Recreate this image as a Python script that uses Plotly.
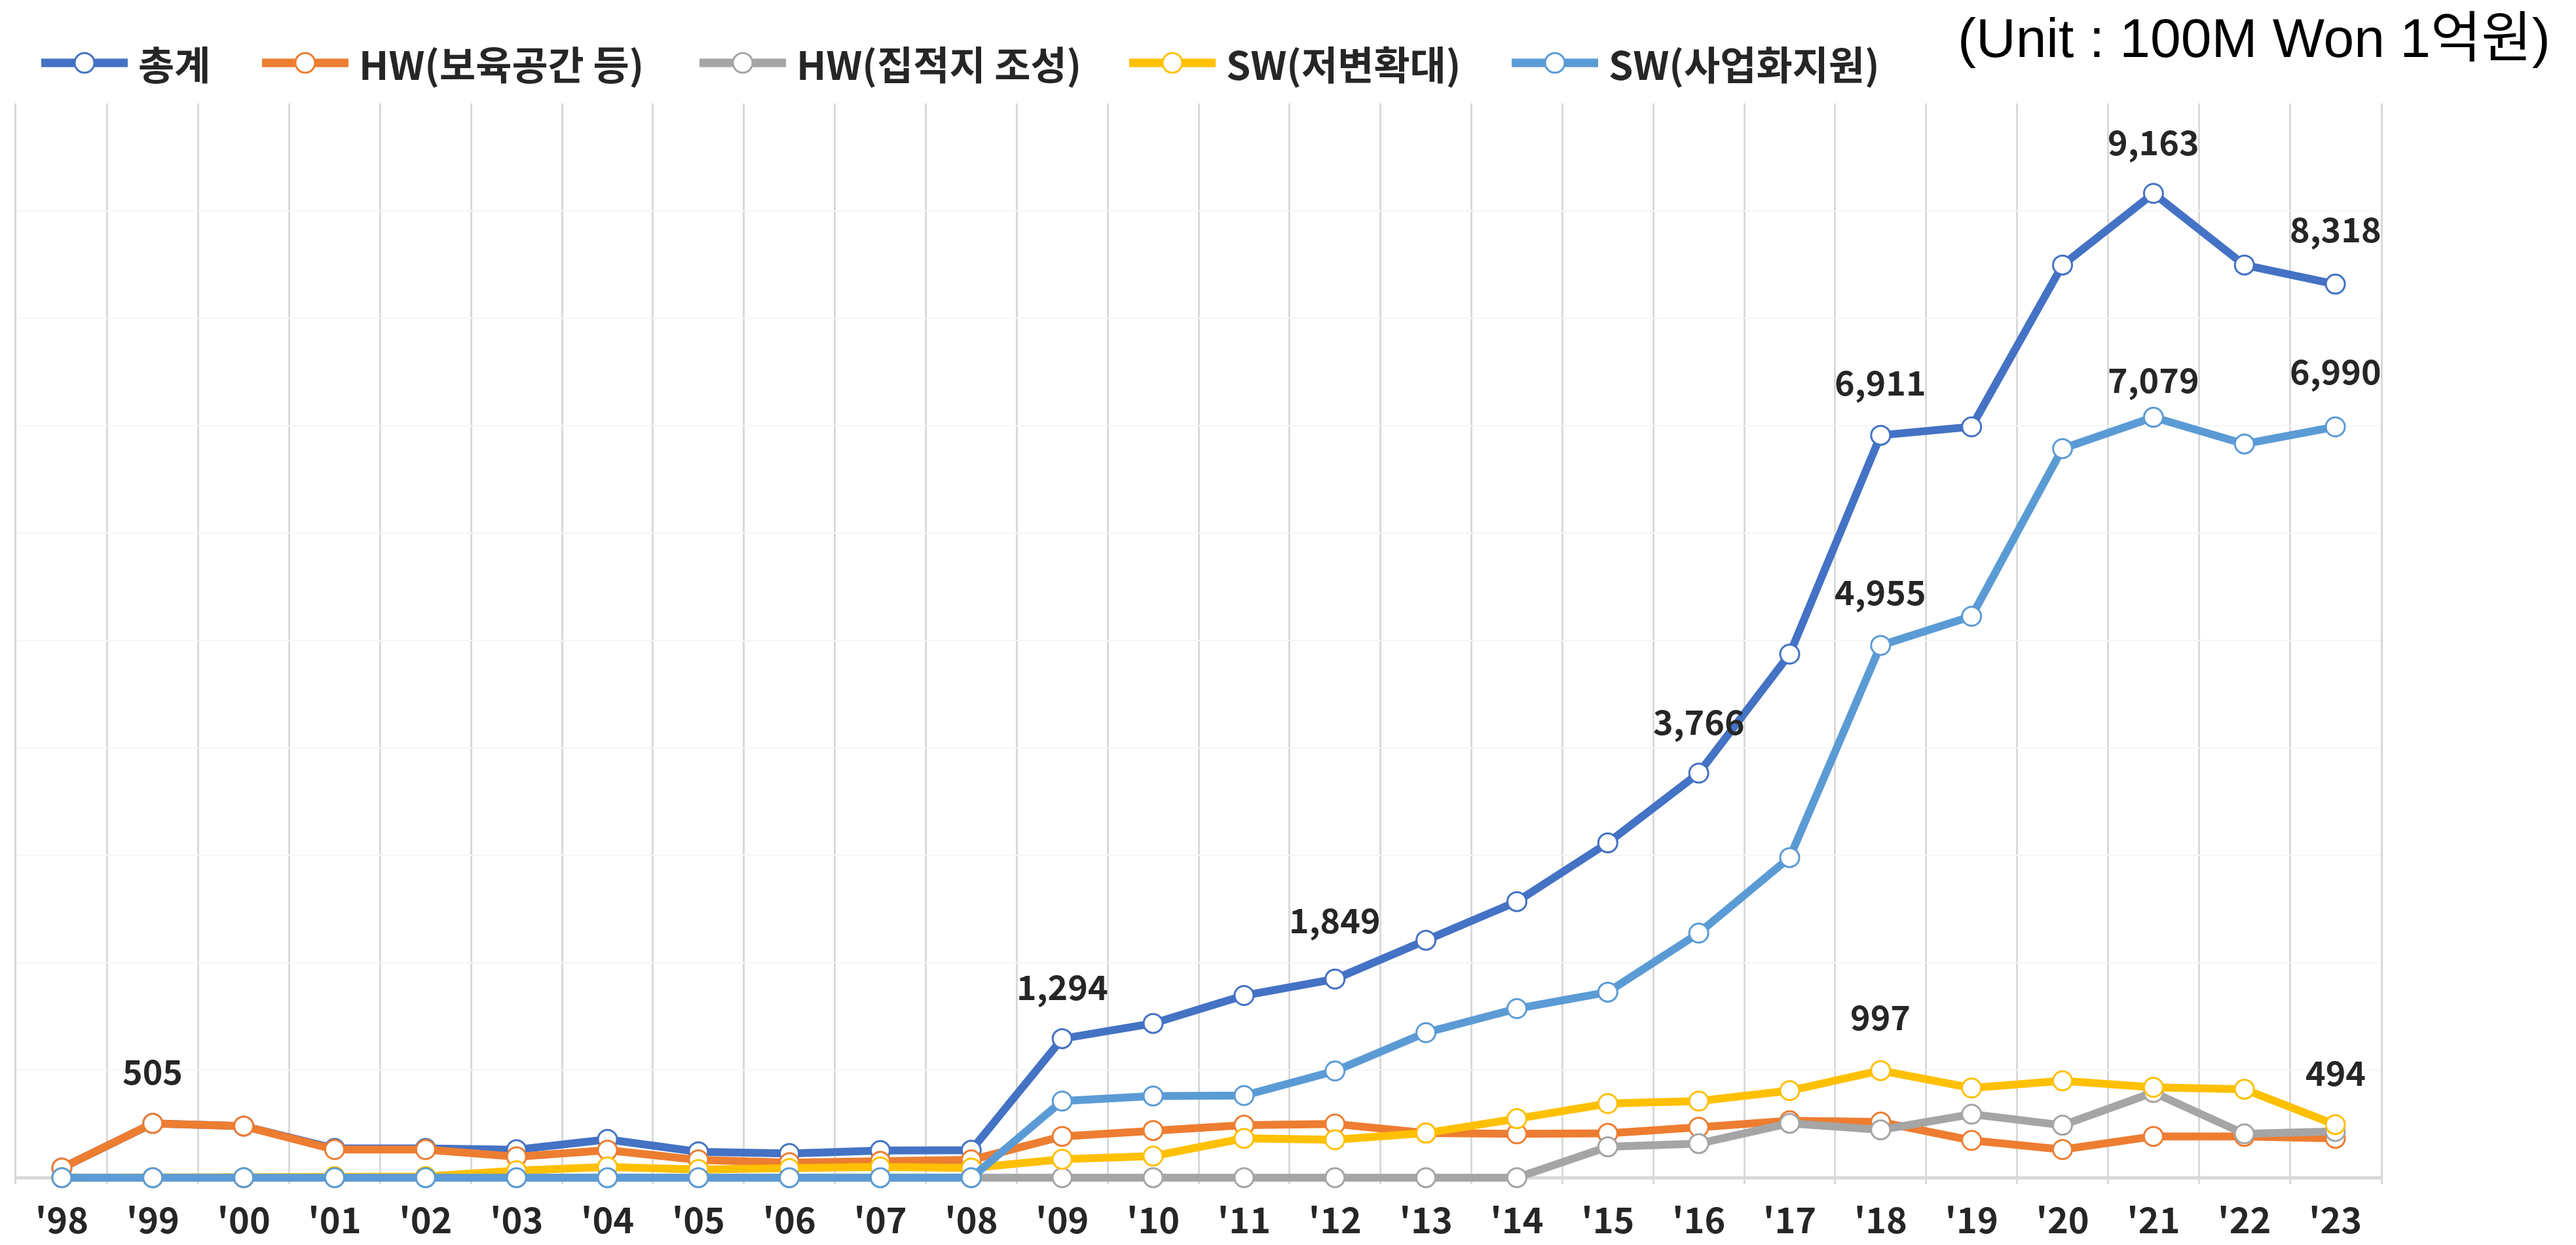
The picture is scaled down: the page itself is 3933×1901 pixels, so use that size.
import plotly.graph_objects as go

# ---------------- data ----------------
years = ["'98", "'99", "'00", "'01", "'02", "'03", "'04", "'05", "'06", "'07", "'08",
         "'09", "'10", "'11", "'12", "'13", "'14", "'15", "'16", "'17", "'18",
         "'19", "'20", "'21", "'22", "'23"]

series_names = ["총계", "HW(보육공간 등)", "HW(집적지 조성)", "SW(저변확대)", "SW(사업화지원)"]

total = [90, 505, 480, 272, 272, 260, 356, 240, 225, 252, 255,
         1294, 1436, 1696, 1849, 2210, 2570, 3117, 3766, 4874, 6911,
         6990, 8496, 9163, 8496, 8318]
hw_space = [90, 505, 480, 262, 262, 195, 256, 165, 140, 152, 165,
            384, 439, 488, 500, 415, 408, 412, 469, 530, 518,
            347, 262, 384, 384, 366]
hw_cluster = [0, 0, 0, 0, 0, 0, 0, 0, 0, 0, 0,
              0, 0, 0, 0, 0, 0, 287, 317, 506, 445,
              591, 488, 793, 408, 430]
sw_base = [0, 0, 0, 10, 10, 65, 100, 75, 85, 100, 90,
           171, 201, 366, 353, 415, 549, 690, 713, 810, 997,
           835, 902, 841, 823, 494]
sw_biz = [0, 0, 0, 0, 0, 0, 0, 0, 0, 0, 0,
          713, 760, 765, 993, 1350, 1574, 1727, 2277, 2980, 4955,
          5226, 6787, 7079, 6830, 6990]

series_values = [total, hw_space, hw_cluster, sw_base, sw_biz]

# data labels: (series index, year label)
label_points = [(0, "'99"), (0, "'09"), (0, "'12"), (0, "'16"), (0, "'18"),
                (0, "'21"), (0, "'23"), (4, "'18"), (4, "'21"), (4, "'23"),
                (3, "'18"), (3, "'23")]

unit_text = "(Unit : 100M Won 1억원)"

# ---------------- styles ----------------
colors = ["#4472C4", "#ED7D31", "#A5A5A5", "#FFC000", "#5B9BD5"]
label_yshift = [82, 81, 92, 81, 83, 81, 86, 84, 60, 87, 84, 82]

W, H = 3933, 1901
L, R, T, B = 17, 306, 150, 101
PW = W - L - R
PH = H - T - B


def px(x):
    return (x - L) / PW


def py(y):
    return (H - B - y) / PH


KFONT = "Noto Sans CJK KR"
TXT = "#262626"

fig = go.Figure()
for name, vals, col in zip(series_names, series_values, colors):
    fig.add_trace(go.Scatter(
        x=years, y=vals, name=name, mode="lines+markers",
        line=dict(color=col, width=12),
        marker=dict(size=29, color="white", line=dict(color=col, width=3)),
        cliponaxis=False, showlegend=False,
    ))

annotations = []
for (si, yr), ys in zip(label_points, label_yshift):
    v = series_values[si][years.index(yr)]
    annotations.append(dict(
        x=yr, y=v, xref="x", yref="y", text=f"{v:,}", showarrow=False,
        yshift=ys, xanchor="center", yanchor="middle",
        font=dict(family=KFONT, size=52, color=TXT, weight=700),
    ))

# custom legend
shapes = []
sym_x0 = [55, 392, 1060, 1716, 2300]
sym_len = 132
leg_y = 88
for name, col, x0 in zip(series_names, colors, sym_x0):
    shapes.append(dict(type="line", xref="paper", yref="paper",
                       x0=px(x0), x1=px(x0 + sym_len), y0=py(leg_y), y1=py(leg_y),
                       line=dict(color=col, width=13), layer="above"))
    cx = px(x0 + sym_len / 2)
    shapes.append(dict(type="circle", xref="paper", yref="paper",
                       xsizemode="pixel", ysizemode="pixel",
                       xanchor=cx, yanchor=py(leg_y),
                       x0=-15, x1=15, y0=-15, y1=15,
                       fillcolor="white", line=dict(color=col, width=3), layer="above"))
    annotations.append(dict(
        x=px(x0 + sym_len + 14), y=py(leg_y), xref="paper", yref="paper",
        text=name, showarrow=False, xanchor="left", yanchor="middle",
        font=dict(family=KFONT, size=60, color=TXT, weight=700),
    ))

annotations.append(dict(
    x=px(3888), y=py(50), xref="paper", yref="paper", text=unit_text,
    showarrow=False, xanchor="right", yanchor="middle",
    font=dict(family="Liberation Sans, Arial, Noto Sans CJK KR", size=84, color="#000000"),
))

fig.update_layout(
    width=W, height=H,
    margin=dict(l=L, r=R, t=T, b=B, pad=0, autoexpand=False),
    paper_bgcolor="white", plot_bgcolor="white",
    showlegend=False,
    annotations=annotations, shapes=shapes,
    xaxis=dict(
        type="category", tickson="boundaries", showgrid=True,
        gridcolor="#d9d9d9", gridwidth=3,
        ticks="", ticklabelstandoff=20, automargin=False,
        tickfont=dict(family=KFONT, size=54, color=TXT, weight=700),
        showline=False, zeroline=False, range=[-0.5, 25.5], fixedrange=True,
    ),
    yaxis=dict(
        range=[-60, 10000], dtick=1000, showgrid=True,
        gridcolor="#f6f6f6", gridwidth=2,
        showticklabels=False, ticks="", automargin=False,
        zeroline=True, zerolinecolor="#d9d9d9", zerolinewidth=5,
        showline=True, mirror=True, linecolor="#d9d9d9", linewidth=3,
        fixedrange=True,
    ),
)

fig.write_html("out.html")
